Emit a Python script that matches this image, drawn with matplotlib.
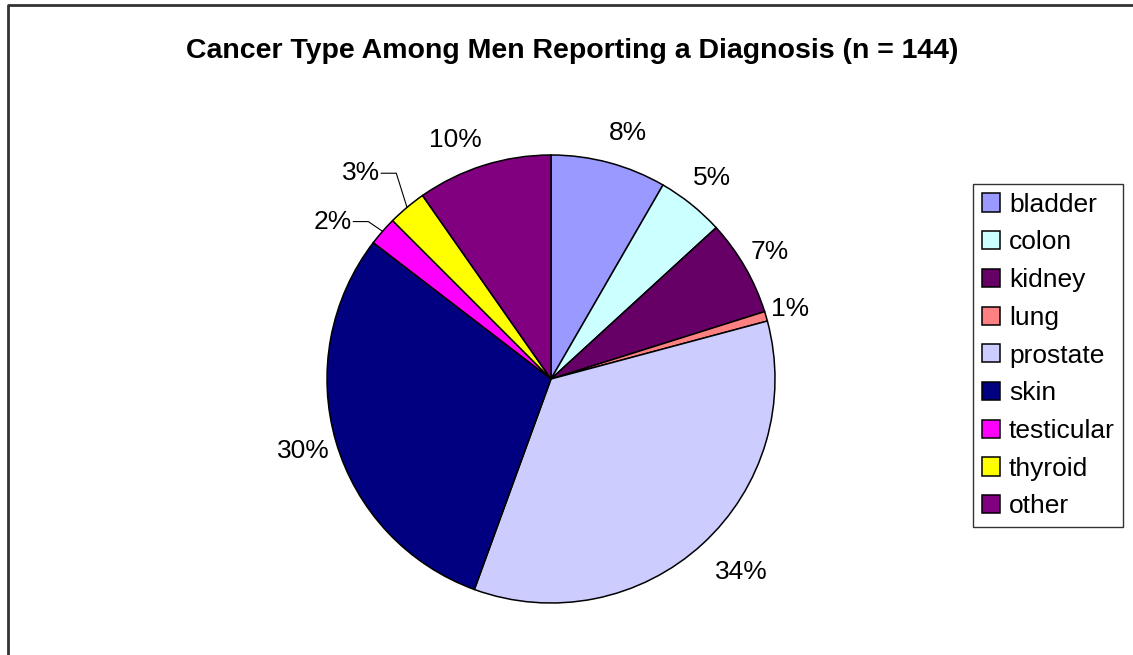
import matplotlib.pyplot as plt
from matplotlib.lines import Line2D
import numpy as np

plt.rcParams['font.family'] = ['Liberation Sans', 'DejaVu Sans']

# Data (counts, n = 144)
cancer_types = ['bladder', 'colon', 'kidney', 'lung', 'prostate',
                'skin', 'testicular', 'thyroid', 'other']
counts = [12, 7, 10, 1, 50, 43, 3, 4, 14]
pct_labels = ['8%', '5%', '7%', '1%', '34%', '30%', '2%', '3%', '10%']
colors = ['#9999FF', '#CCFFFF', '#660066', '#FF8080', '#CCCCFF',
          '#000080', '#FF00FF', '#FFFF00', '#800080']

W, H = 1133, 655
fig = plt.figure(figsize=(W / 100, H / 100), dpi=100)

# pie axes: centre (551, 379) px, radius 224 px
cx, cy, R = 551, 379, 224
ax = fig.add_axes([(cx - R) / W, (H - cy - R) / H, 2 * R / W, 2 * R / H])
wedges, _ = ax.pie(counts, colors=colors, startangle=90, counterclock=False,
                   wedgeprops=dict(edgecolor='black', linewidth=1.1))
ax.set_xlim(-1, 1)
ax.set_ylim(-1, 1)
ax.set_aspect('equal')
ax.axis('off')

# label placement: distance from centre and angular nudge (degrees)
label_dist = [1.15, 1.15, 1.13, 1.11, 1.21, 1.15, 1.20, 1.25, 1.15]
label_shift = [-2.4, 0, 0, 0, 2, 0, 5.4, 2.7, 4.4]
leader_len = [0, 0, 0, 0, 0, 0, 0.067, 0.067, 0]

for w, lab, d, s, ll in zip(wedges, pct_labels, label_dist, label_shift, leader_len):
    mid = np.deg2rad((w.theta1 + w.theta2) / 2)
    ang = mid + np.deg2rad(s)
    tx, ty = d * np.cos(ang), d * np.sin(ang)
    ax.text(tx, ty, lab, ha='center', va='center', fontsize=19)
    if ll:
        # leader: short horizontal stub then straight to the wedge rim
        ex, ey = np.cos(mid), np.sin(mid)
        kx = tx + 0.09
        ax.plot([kx, kx + ll, ex], [ty, ty, ey], color='black',
                linewidth=0.8, clip_on=False)

fig.text(0.505, 1 - 51 / H,
         'Cancer Type Among Men Reporting a Diagnosis (n = 144)',
         ha='center', va='center', fontsize=20.5, fontweight='bold')

# chart frame (left and top edges visible)
fig.add_artist(Line2D([8 / W, 8 / W, 1.0], [0, 1 - 5 / H, 1 - 5 / H],
                      transform=fig.transFigure, color='#333333', linewidth=2))

leg = fig.legend(wedges, cancer_types, loc='upper left',
                 bbox_to_anchor=(973 / W, 1 - 184 / H), fontsize=19,
                 frameon=True, fancybox=False, edgecolor='black',
                 handlelength=0.68, handleheight=0.68, handletextpad=0.35,
                 labelspacing=0.52, borderpad=0.33, borderaxespad=0)
leg.get_frame().set_linewidth(1)

fig.savefig('out.png', dpi=100)
